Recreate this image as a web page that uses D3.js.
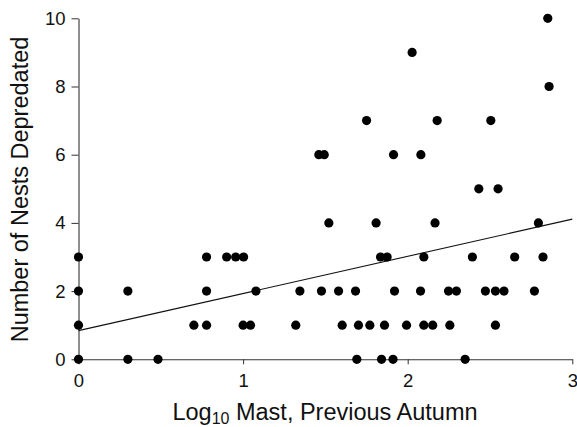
<!DOCTYPE html>
<html>
<head>
<meta charset="utf-8">
<script src="https://cdn.jsdelivr.net/npm/d3@7"></script>
<style>
  body { margin: 0; background: #fff; }
  svg { display: block; }
  text { font-family: "Liberation Sans", Arial, Helvetica, sans-serif; fill: #111; }
</style>
</head>
<body>
<svg id="chart" width="577" height="427"></svg>
<script>
// Data: log10 mast (previous autumn) vs number of nests depredated
const xValues = [0, 0, 0, 0,
  0.30, 0.30, 0.483,
  0.701, 0.778, 0.778, 0.778,
  0.90, 0.955, 1.003,
  1.0, 1.045, 1.078,
  1.32, 1.345,
  1.46, 1.493, 1.476, 1.521,
  1.58, 1.602, 1.683, 1.691, 1.701, 1.750, 1.770, 1.808,
  1.835, 1.875, 1.841, 1.859, 1.911, 1.914, 1.920,
  1.993, 2.027, 2.078, 2.080, 2.098, 2.098, 2.152, 2.166, 2.179,
  2.248, 2.256, 2.296, 2.349, 2.393, 2.432,
  2.472, 2.505, 2.533, 2.533, 2.549, 2.585, 2.650,
  2.770, 2.794, 2.822, 2.851, 2.859];
const yValues = [0, 1, 2, 3,
  2, 0, 0,
  1, 1, 2, 3,
  3, 3, 3,
  1, 1, 2,
  1, 2,
  6, 6, 2, 4,
  2, 1, 2, 0, 1, 7, 1, 4,
  3, 3, 0, 1, 0, 6, 2,
  1, 9, 2, 6, 3, 1, 1, 4, 7,
  2, 1, 2, 0, 3, 5,
  2, 7, 2, 1, 5, 2, 3,
  2, 4, 3, 10, 8];
// Regression line endpoints
const fitX = [0, 3];
const fitY = [0.84, 4.11];
const xTicks = [0, 1, 2, 3];
const yTicks = [0, 2, 4, 6, 8, 10];

const svg = d3.select("#chart");
const x = d3.scaleLinear().domain([0, 3]).range([78.5, 572.3]);
const y = d3.scaleLinear().domain([0, 10]).range([359.3, 18.3]);

// Axes
const yAxis = svg.append("g")
  .attr("transform", `translate(${x(0)},0)`)
  .call(d3.axisLeft(y).tickValues(yTicks).tickFormat(d3.format("d"))
    .tickSize(7).tickSizeOuter(0).tickPadding(6));
const xAxis = svg.append("g")
  .attr("transform", `translate(0,${y(0)})`)
  .call(d3.axisBottom(x).tickValues(xTicks).tickFormat(d3.format("d"))
    .tickSize(5).tickSizeOuter(0).tickPadding(10));
[xAxis, yAxis].forEach(g => {
  g.selectAll("path.domain").attr("stroke", "#333").attr("stroke-width", 1.1);
  g.selectAll(".tick line").attr("stroke", "#333").attr("stroke-width", 1);
  g.selectAll(".tick text").style("font-size", "18.5px")
    .style("font-family", '"Liberation Sans", Arial, sans-serif').attr("fill", "#111");
});

// Regression line
const line = d3.line().x(d => x(d[0])).y(d => y(d[1]));
svg.append("path")
  .datum(d3.zip(fitX, fitY))
  .attr("d", line)
  .attr("fill", "none")
  .attr("stroke", "#111")
  .attr("stroke-width", 1.1);

// Points
svg.append("g").selectAll("circle")
  .data(d3.zip(xValues, yValues))
  .join("circle")
  .attr("cx", d => x(d[0]))
  .attr("cy", d => y(d[1]))
  .attr("r", 4.6)
  .attr("fill", "#000");

// Axis titles
const xt = svg.append("text")
  .attr("x", 325)
  .attr("y", 420)
  .attr("text-anchor", "middle")
  .style("font-size", "23.5px");
xt.append("tspan").text("Log");
xt.append("tspan").text("10").style("font-size", "16px").attr("dy", 4);
xt.append("tspan").text(" Mast, Previous Autumn").attr("dy", -4);

svg.append("text")
  .attr("transform", "translate(28,189.5) rotate(-90)")
  .attr("text-anchor", "middle")
  .style("font-size", "23.5px")
  .text("Number of Nests Depredated");
</script>
</body>
</html>
